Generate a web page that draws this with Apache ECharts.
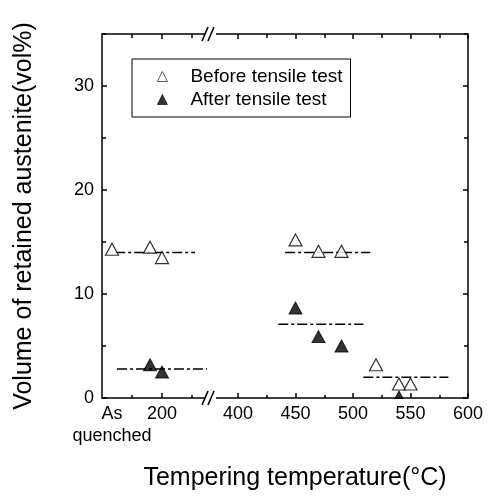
<!DOCTYPE html>
<html><head><meta charset="utf-8">
<script src="https://cdn.jsdelivr.net/npm/echarts@6/dist/echarts.min.js"></script>
<style>html,body{margin:0;padding:0;background:#fff}#c{width:490px;height:496px}</style>
</head><body><div id="c"></div>
<script>
// ---- data ----
const beforeTemp = ['As quenched', 180, 200, 450, 470, 490, 520, 540, 550];
const beforeVol  = [14.3, 14.5, 13.5, 15.2, 14.1, 14.1, 3.2, 1.35, 1.35];
const afterTemp  = [180, 200, 450, 470, 490, 540];
const afterVol   = [3.2, 2.5, 8.65, 5.9, 5.0, 0.1];
// average (dash-dot) lines
const avgStart = [122, 125, 441, 435, 509];
const avgEnd   = [255, 275, 515, 509, 583];
const avgVol   = [14.0, 2.8, 14.0, 7.1, 2.0];
// x ticks
const xTickTemps  = [200, 400, 450, 500, 550, 600];
const xTickLabels = ['200', '400', '450', '500', '550', '600'];
const xFirstTemp  = 'As quenched';
const xFirstLabel = 'As\nquenched';
const xMajorTicks = [200, 400, 450, 500, 550, 600];
const xMinorTicks = [150, 250, 425, 475, 525, 575];
// y ticks
const yMajorTicks = [0, 10, 20, 30];
const yMinorTicks = [5, 15, 25, 35];

// ---- broken x scale: left segment (As quenched..~280) and right segment (~380..600) ----
function toU(t) {
  if (t === 'As quenched') return 10;
  if (t < 320) return 60 + (t - 200) * 0.6;
  return 136 + (t - 400) * 1.15;
}
const U_MAX = toU(600);
const BREAK_U = 108;

const FONT = "'Liberation Sans', Arial, Helvetica, sans-serif";
const chart = echarts.init(document.getElementById('c'));

const majorU = xMajorTicks.map(toU);
const minorU = xMinorTicks.map(toU);
const labelU = xTickTemps.map(toU);
const firstU = toU(xFirstTemp);
const black = '#000';
const lineSt = {color: black, width: 1.5};

function xAx(o) {
  const base = {type: 'value', min: 0, max: U_MAX, gridIndex: 0,
    splitLine: {show: false}, axisLabel: {show: false}, axisTick: {show: false}, axisLine: {show: false, onZero: false}};
  const r = Object.assign(base, o);
  r.axisLine = Object.assign({onZero: false}, r.axisLine);
  return r;
}
function yAx(o) {
  const base = {type: 'value', min: 0, max: 35, gridIndex: 0,
    splitLine: {show: false}, axisLabel: {show: false}, axisTick: {show: false}, axisLine: {show: false, onZero: false}};
  const r = Object.assign(base, o);
  r.axisLine = Object.assign({onZero: false}, r.axisLine);
  return r;
}
const lblBase = {show: true, interval: 0, hideOverlap: false, showMinLabel: true, showMaxLabel: true,
  color: black, fontSize: 18, fontFamily: FONT, margin: 5, lineHeight: 22};

const avgSeries = avgVol.map((v, i) => ({
  type: 'line', silent: true, symbol: 'none', xAxisIndex: 0, yAxisIndex: 0, z: 3,
  lineStyle: {color: black, width: 1.5, type: [10, 3, 3, 3]},
  data: [[toU(avgStart[i]), v], [toU(avgEnd[i]), v]]
}));

chart.setOption({
  animation: false,
  backgroundColor: '#fff',
  grid: {left: 102, right: 22, top: 34, bottom: 98},
  legend: {
    orient: 'vertical', left: 132, top: 59,
    borderColor: black, borderWidth: 1,
    padding: [8, 8, 8, 25], itemGap: 4, itemWidth: 10, itemHeight: 10,
    itemStyle: {borderWidth: 0.8},
    textStyle: {fontSize: 19, color: black, fontFamily: FONT, padding: [0, 0, 0, 18]},
    data: [{name: 'Before tensile test', icon: 'triangle'}, {name: 'After tensile test', icon: 'triangle'}]
  },
  xAxis: [
    xAx({position: 'bottom', axisLine: {show: true, lineStyle: lineSt},
      axisTick: {show: true, inside: true, length: 5, customValues: majorU, lineStyle: lineSt},
      axisLabel: Object.assign({}, lblBase, {customValues: labelU,
        formatter: v => { const i = labelU.findIndex(u => Math.abs(u - v) < 0.01); return i >= 0 ? xTickLabels[i] : ''; }}),
      name: 'Tempering temperature(°C)', nameLocation: 'middle', nameGap: 68,
      nameTextStyle: {fontSize: 25, color: black, fontFamily: FONT, padding: [0, 0, 0, 20]}}),
    xAx({position: 'bottom', axisTick: {show: true, inside: true, length: 3, customValues: minorU, lineStyle: lineSt}}),
    xAx({position: 'bottom',
      axisLabel: Object.assign({}, lblBase, {customValues: [firstU], formatter: () => xFirstLabel})}),
    xAx({position: 'top', axisLine: {show: true, lineStyle: lineSt},
      axisTick: {show: true, inside: true, length: 5, customValues: majorU, lineStyle: lineSt}}),
    xAx({position: 'top', axisTick: {show: true, inside: true, length: 4, customValues: minorU, lineStyle: lineSt}})
  ],
  yAxis: [
    yAx({position: 'left', axisLine: {show: true, lineStyle: lineSt},
      axisTick: {show: true, inside: true, length: 5, customValues: yMajorTicks, lineStyle: lineSt},
      axisLabel: {show: true, customValues: yMajorTicks, color: black, fontSize: 18, fontFamily: FONT, margin: 8},
      name: 'Volume of retained austenite(vol%)', nameLocation: 'middle', nameGap: 65,
      nameTextStyle: {fontSize: 25, color: black, fontFamily: FONT, padding: [0, 0, 0, 0]}}),
    yAx({position: 'left', axisTick: {show: true, inside: true, length: 4, customValues: yMinorTicks, lineStyle: lineSt}}),
    yAx({position: 'right', axisLine: {show: true, lineStyle: lineSt},
      axisTick: {show: true, inside: true, length: 5, customValues: yMajorTicks, lineStyle: lineSt}}),
    yAx({position: 'right', axisTick: {show: true, inside: true, length: 4, customValues: yMinorTicks, lineStyle: lineSt}})
  ],
  series: [
    {name: 'Before tensile test', type: 'scatter', xAxisIndex: 0, yAxisIndex: 0, z: 5,
      symbol: 'triangle', symbolSize: [13, 12],
      itemStyle: {color: '#fff', borderColor: black, borderWidth: 1.2},
      data: beforeTemp.map((t, i) => [toU(t), beforeVol[i]])},
    {name: 'After tensile test', type: 'scatter', xAxisIndex: 0, yAxisIndex: 0, z: 5,
      symbol: 'triangle', symbolSize: [13, 12],
      itemStyle: {color: black, borderColor: black, borderWidth: 1},
      data: afterTemp.map((t, i) => [toU(t), afterVol[i]])}
  ].concat(avgSeries)
});

// axis break marks ("//") and mask below the bottom axis
const bx = chart.convertToPixel({xAxisIndex: 0}, BREAK_U);
const yTop = chart.convertToPixel({yAxisIndex: 0}, 35);
const yBot = chart.convertToPixel({yAxisIndex: 0}, 0);
const xL = chart.convertToPixel({xAxisIndex: 0}, 0);
const xR = chart.convertToPixel({xAxisIndex: 0}, U_MAX);
const g = [{type: 'rect', z: 100, shape: {x: xL + 1, y: yBot + 1, width: xR - xL - 2, height: 5},
  style: {fill: '#fff'}}];
[yTop, yBot].forEach(y => {
  g.push({type: 'rect', z: 101, shape: {x: bx - 5, y: y - 2, width: 11, height: 4}, style: {fill: '#fff'}});
  g.push({type: 'line', z: 102, shape: {x1: bx - 8, y1: y + 7, x2: bx - 2, y2: y - 7}, style: {stroke: black, lineWidth: 1.6}});
  g.push({type: 'line', z: 102, shape: {x1: bx - 2, y1: y + 7, x2: bx + 4, y2: y - 7}, style: {stroke: black, lineWidth: 1.6}});
});
chart.setOption({graphic: g});
</script></body></html>
